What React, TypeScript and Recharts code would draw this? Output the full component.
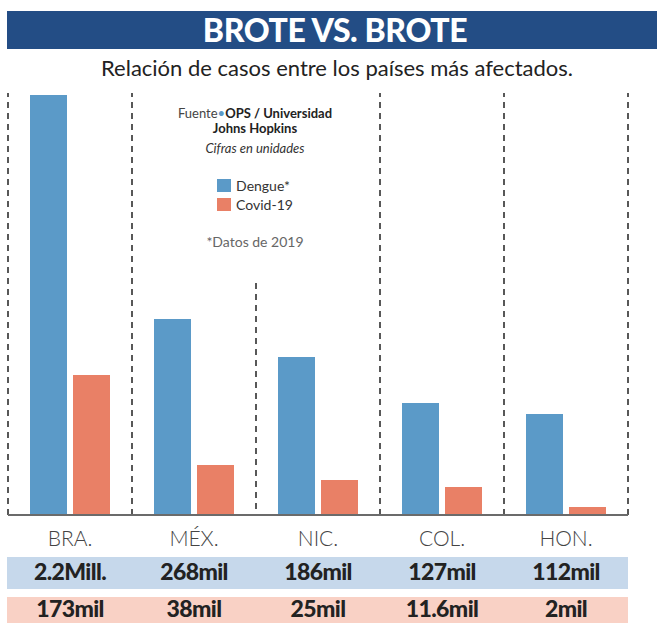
import React from 'react';
import { BarChart, Bar, XAxis, YAxis, ReferenceLine, Legend } from 'recharts';

// bar heights as drawn in the graphic (not to scale with the printed figures)
const countries = ['BRA.', 'MÉX.', 'NIC.', 'COL.', 'HON.'];
const dengueBars = [420, 196, 158, 112, 101];
const covidBars = [140, 50, 35, 28, 8];
const dengueLabels = ['2.2Mill.', '268mil', '186mil', '127mil', '112mil'];
const covidLabels = ['173mil', '38mil', '25mil', '11.6mil', '2mil'];
// dashed dividers sit at the start of each country band; NIC.'s stops under the legend
const shortDividerCountry = 'NIC.';
const shortDividerTop = 232;
const yMax = 422;
const seriesOrder = ['Dengue', 'Covid'];

const data = countries.map((name, i) => ({
  name,
  Dengue: dengueBars[i],
  Covid: covidBars[i],
}));

const BLUE = '#5b9ac8';
const ORANGE = '#e98066';
const dash = { stroke: '#222', strokeWidth: 1.5, strokeDasharray: '6 5' };

const CountryTick = (props: any) => {
  const { x, y, payload } = props;
  const i = payload.index;
  return (
    <g>
      <text x={x} y={y + 14} textAnchor="middle" dominantBaseline="central"
        fontFamily="Lato" fontWeight={300} fontSize={21} fill="#444">
        {payload.value}
      </text>
      <text x={x} y={y + 48} textAnchor="middle" dominantBaseline="central"
        fontFamily="Lato" fontWeight={900} fontSize={23} fill="#222" letterSpacing={-0.6}>
        {dengueLabels[i]}
      </text>
      <text x={x} y={y + 85} textAnchor="middle" dominantBaseline="central"
        fontFamily="Lato" fontWeight={900} fontSize={23} fill="#222" letterSpacing={-0.6}>
        {covidLabels[i]}
      </text>
    </g>
  );
};

const LegendBox = (props: any) => {
  const names: Record<string, string> = { Dengue: 'Dengue*', Covid: 'Covid-19' };
  const items = [...(props.payload || [])].sort(
    (a: any, b: any) => seriesOrder.indexOf(a.value) - seriesOrder.indexOf(b.value)
  );
  return (
    <div style={{ fontFamily: 'Lato', textAlign: 'center', color: '#222' }}>
      <div style={{ fontSize: 13, lineHeight: '15px' }}>
        <span style={{ color: '#444' }}>Fuente</span>
        <span style={{ color: BLUE }}>•</span>
        <b>OPS / Universidad</b>
      </div>
      <div style={{ fontSize: 13, lineHeight: '15px', fontWeight: 700 }}>Johns Hopkins</div>
      <div style={{ fontSize: 13, lineHeight: '18px', fontStyle: 'italic', marginTop: 3, color: '#333' }}>
        Cifras en unidades
      </div>
      <div style={{ display: 'inline-block', textAlign: 'left', marginTop: 19 }}>
        {items.map((p: any) => (
          <div key={p.value} style={{ display: 'flex', alignItems: 'center', height: 19, fontSize: 14 }}>
            <span style={{ width: 14, height: 13, background: p.color, marginRight: 5 }} />
            <span style={{ color: '#333' }}>{names[p.value]}</span>
          </div>
        ))}
      </div>
      <div style={{ fontSize: 14, color: '#666', marginTop: 19 }}>*Datos de 2019</div>
    </div>
  );
};

export default function App() {
  const last = countries[countries.length - 1];
  return (
    <div style={{ position: 'absolute', left: 0, top: 0, width: 657, height: 623, background: '#fff', overflow: 'hidden', fontFamily: 'Lato' }}>
      <div style={{ position: 'absolute', left: 7, top: 11, width: 650, height: 38, background: '#234d85',
        color: '#fff', fontWeight: 900, fontSize: 32, lineHeight: '38px', textAlign: 'center', letterSpacing: -0.4, paddingLeft: 6, boxSizing: 'border-box' }}>
        BROTE VS. BROTE
      </div>
      <div style={{ position: 'absolute', left: 0, top: 54, width: 674, textAlign: 'center', fontSize: 22, color: '#222', lineHeight: '28px' }}>
        Relación de casos entre los países más afectados.
      </div>
      <div style={{ position: 'absolute', left: 7, top: 557, width: 621, height: 32, background: '#c6d8eb' }} />
      <div style={{ position: 'absolute', left: 7, top: 597, width: 621, height: 26, background: '#f9d1c5' }} />
      <div style={{ position: 'absolute', left: 0, top: 0 }}>
        <BarChart width={657} height={623} data={data} barSize={37} barGap={6}
          margin={{ top: 93, right: 29, left: 8, bottom: 8 }}>
          <XAxis dataKey="name" height={100} interval={0}
            axisLine={{ stroke: '#6b6b6b', strokeWidth: 2 }} tickLine={false} tick={<CountryTick />} />
          <YAxis hide domain={[0, yMax]} />
          {countries.filter((c) => c !== shortDividerCountry).map((c) => (
            <ReferenceLine key={c} x={c} position="start" {...dash} />
          ))}
          <ReferenceLine x={last} position="end" {...dash} />
          <ReferenceLine position="start" {...dash}
            segment={[{ x: shortDividerCountry, y: shortDividerTop }, { x: shortDividerCountry, y: 0 }]} />
          <Legend content={<LegendBox />} layout="vertical" verticalAlign="middle" align="center"
            wrapperStyle={{ position: 'absolute', left: 150, top: 106, width: 210 }} />
          <Bar dataKey="Dengue" fill={BLUE} isAnimationActive={false} />
          <Bar dataKey="Covid" fill={ORANGE} isAnimationActive={false} />
        </BarChart>
      </div>
    </div>
  );
}
